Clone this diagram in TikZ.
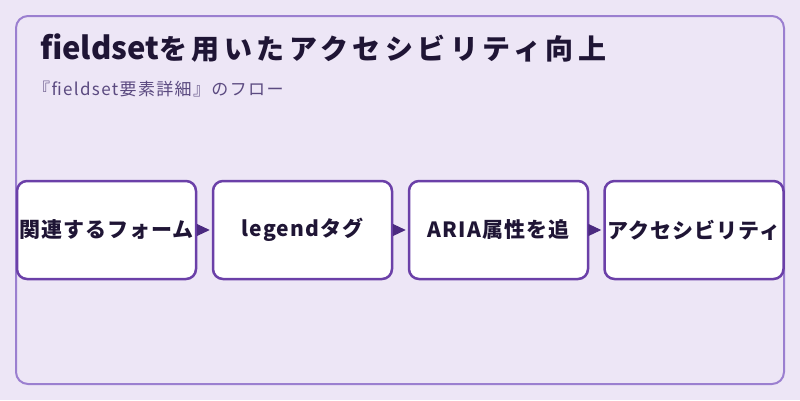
\documentclass[tikz,border=0pt]{standalone}
\usepackage{fontspec}
\setmainfont{Noto Sans CJK JP}
\usetikzlibrary{arrows.meta}
\definecolor{bgc}{HTML}{EDE6F6}
\definecolor{outerc}{HTML}{9B7FD0}
\definecolor{boxc}{HTML}{6B40A8}
\definecolor{arrowc}{HTML}{4B2A80}
\definecolor{titlec}{HTML}{1F1535}
\definecolor{subc}{HTML}{5B4A80}
\newcommand{\boxlabel}[1]{\raisebox{-2pt}{#1}}
\tikzset{
  stepbox/.style={draw=boxc, line width=2.5pt, fill=white, rounded corners=10pt,
    minimum width=179pt, minimum height=98pt, inner sep=0pt,
    font=\fontsize{21}{24}\selectfont\bfseries\addfontfeatures{LetterSpace=5}, text=titlec},
  flowarrow/.style={draw=arrowc, line width=1pt, shorten >=2pt,
    -{Triangle[length=13pt,width=12pt]}, arrowc}
}
\begin{document}
\begin{tikzpicture}[x=1pt,y=-1pt]
\fill[bgc] (0,0) rectangle (800,400);
\useasboundingbox (0,0) rectangle (800,400);
\draw[outerc, line width=2pt, rounded corners=12pt] (16,16) rectangle (784,384);
\node[anchor=base west, inner sep=0pt, text=titlec, font=\bfseries] (title) at (40,59) {{\fontsize{31}{34}\selectfont fieldset}{\fontsize{28}{32}\selectfont\addfontfeatures{LetterSpace=16}を用いたアクセシビリティ向上}};
\node[anchor=base west, inner sep=0pt, text=subc, font=\fontsize{17}{20}\selectfont\addfontfeatures{LetterSpace=8}] (sub) at (33,95) {『fieldset要素詳細』のフロー};
\node[stepbox] (b1) at (106.5,230) {\boxlabel{関連するフォーム}};
\node[stepbox] (b2) at (302.5,230) {\boxlabel{legendタグ}};
\node[stepbox] (b3) at (498.5,230) {\boxlabel{ARIA属性を追}};
\node[stepbox] (b4) at (694,230) {\boxlabel{アクセシビリティ}};
\draw[flowarrow] (b1) -- (b2);
\draw[flowarrow] (b2) -- (b3);
\draw[flowarrow] (b3) -- (b4);
\end{tikzpicture}
\end{document}
